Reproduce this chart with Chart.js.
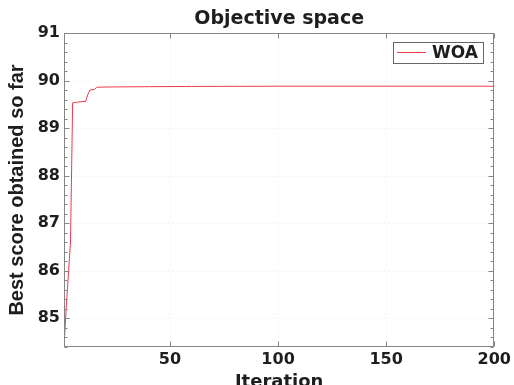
<!DOCTYPE html>
<html><head><meta charset="utf-8">
<script src="https://cdn.jsdelivr.net/npm/chart.js@4"></script>
<style>html,body{margin:0;padding:0;background:#fff;}</style>
</head><body>
<canvas id="c" width="514" height="385"></canvas>
<script>
const iterations = [1, 2, 3, 4, 5, 8, 11, 12, 13, 15, 16, 17, 25, 40, 60, 100, 150, 200];
const bestScores = [84.39, 85.2, 85.9, 86.6, 89.53, 89.55, 89.56, 89.70, 89.80, 89.81, 89.85, 89.86, 89.865, 89.87, 89.875, 89.88, 89.88, 89.88];
const xTicks = [50, 100, 150, 200];
const yTicks = [85, 86, 87, 88, 89, 90, 91];
const seriesName = 'WOA';
const chartTitle = 'Objective space';
const xTitle = 'Iteration';
const yTitle = 'Best score obtained so far';

const LINE = '#ee3a4a';
const AX = '#858585';
const TXT = '#1e1e1e';

const framePlugin = {
  id: 'frame',
  beforeDatasetsDraw(chart) {
    const {ctx, chartArea: a, scales: {x, y}} = chart;
    ctx.save();
    ctx.strokeStyle = '#ececec';
    ctx.lineWidth = 1;
    ctx.setLineDash([1, 3]);
    xTicks.forEach(v => {
      const px = Math.round(x.getPixelForValue(v)) + 0.5;
      ctx.beginPath(); ctx.moveTo(px, a.top); ctx.lineTo(px, a.bottom); ctx.stroke();
    });
    yTicks.forEach(v => {
      const py = Math.round(y.getPixelForValue(v)) + 0.5;
      ctx.beginPath(); ctx.moveTo(a.left, py); ctx.lineTo(a.right, py); ctx.stroke();
    });
    ctx.restore();
  },
  afterDatasetsDraw(chart) {
    const {ctx, chartArea: a, scales: {x, y}} = chart;
    ctx.save();
    ctx.strokeStyle = AX;
    ctx.lineWidth = 1;
    const L = Math.round(a.left) + 0.5, R = Math.round(a.right) - 0.5;
    const T = Math.round(a.top) + 0.5, B = Math.round(a.bottom) - 0.5;
    ctx.strokeRect(L, T, R - L, B - T);
    ctx.beginPath();
    xTicks.forEach(v => {
      const px = Math.round(x.getPixelForValue(v)) + 0.5;
      ctx.moveTo(px, B); ctx.lineTo(px, B - 5);
      ctx.moveTo(px, T); ctx.lineTo(px, T + 5);
    });
    yTicks.forEach(v => {
      const py = Math.round(y.getPixelForValue(v)) + 0.5;
      ctx.moveTo(L, py); ctx.lineTo(L + 5, py);
      ctx.moveTo(R, py); ctx.lineTo(R - 5, py);
    });
    for (let k = Math.ceil(y.min * 5); k <= Math.floor(y.max * 5); k++) {
      if (k % 5 === 0) continue;
      const py = Math.round(y.getPixelForValue(k / 5)) + 0.5;
      ctx.moveTo(L, py); ctx.lineTo(L + 3, py);
      ctx.moveTo(R, py); ctx.lineTo(R - 3, py);
    }
    ctx.stroke();
    // legend box
    const ds = chart.data.datasets[0];
    const bx = 393.5, by = 42.5, bw = 90, bh = 21;
    ctx.fillStyle = '#fff';
    ctx.fillRect(bx, by, bw, bh);
    ctx.strokeStyle = '#666';
    ctx.strokeRect(bx, by, bw, bh);
    ctx.strokeStyle = ds.borderColor;
    ctx.beginPath(); ctx.moveTo(397, 52.5); ctx.lineTo(426, 52.5); ctx.stroke();
    ctx.fillStyle = TXT;
    ctx.font = 'bold 17px "DejaVu Sans"';
    ctx.textBaseline = 'middle';
    ctx.textAlign = 'left';
    ctx.fillText(ds.label, 432, 53.5);
    ctx.restore();
  }
};

new Chart(document.getElementById('c'), {
  type: 'line',
  data: {
    datasets: [{
      label: seriesName,
      data: iterations.map((it, i) => ({x: it, y: bestScores[i]})),
      borderColor: LINE,
      borderWidth: 1,
      pointRadius: 0,
      tension: 0,
      fill: false
    }]
  },
  options: {
    responsive: false,
    devicePixelRatio: 1,
    animation: false,
    layout: {padding: {left: 0, right: 19, top: 0, bottom: 0}},
    plugins: {
      legend: {display: false},
      tooltip: {enabled: false},
      title: {
        display: true,
        text: chartTitle,
        fullSize: false,
        color: TXT,
        font: {family: 'DejaVu Sans', weight: 'bold', size: 19, lineHeight: 1.2},
        padding: {top: 8, bottom: 2.2}
      }
    },
    scales: {
      x: {
        type: 'linear',
        min: 1, max: 200,
        afterBuildTicks: s => { s.ticks = xTicks.map(v => ({value: v})); },
        afterFit: s => { s.height = 38; },
        grid: {display: false, drawTicks: false},
        border: {display: false},
        ticks: {
          color: TXT, padding: 3, maxRotation: 0, autoSkip: false,
          font: {family: 'DejaVu Sans', weight: 'bold', size: 16}
        },
        title: {
          display: true, text: xTitle, color: TXT,
          font: {family: 'DejaVu Sans', weight: 'bold', size: 18, lineHeight: 1},
          padding: {top: 0, bottom: -6.5}
        }
      },
      y: {
        type: 'linear',
        min: 84.39, max: 91,
        afterBuildTicks: s => { s.ticks = yTicks.map(v => ({value: v})); },
        afterFit: s => { s.width = 64; },
        grid: {display: false, drawTicks: false},
        border: {display: false},
        ticks: {
          color: TXT, padding: 4,
          font: {family: 'DejaVu Sans', weight: 'bold', size: 16}
        },
        title: {
          display: true, text: yTitle, color: TXT,
          font: {family: 'Liberation Sans', weight: 'bold', size: 20, lineHeight: 1.2},
          padding: {top: 5.5, bottom: 0}
        }
      }
    }
  },
  plugins: [framePlugin]
});
</script>
</body></html>
